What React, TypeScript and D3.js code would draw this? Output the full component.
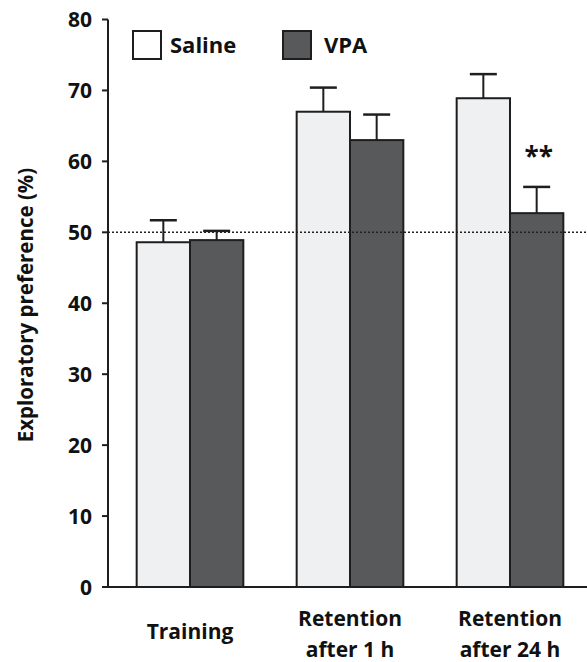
import React from "react";
import * as d3 from "d3";

const categories = [["Training"], ["Retention", "after 1 h"], ["Retention", "after 24 h"]];
const seriesNames = ["Saline", "VPA"];
const salineMean = [48.6, 67.0, 68.9];
const salineSem = [3.1, 3.4, 3.4];
const vpaMean = [48.9, 63.0, 52.7];
const vpaSem = [1.3, 3.6, 3.7];
const significance = ["", "", "**"];
const yTicks = [0, 10, 20, 30, 40, 50, 60, 70, 80];
const referenceLine = 50;
const yLabel = "Exploratory preference (%)";

const W = 587;
const H = 662;
const FONT = "'Open Sans', sans-serif";
const colors = ["#eff0f2", "#58595b"];
const stroke = "#1e1e1e";

export default function App() {
  const y = d3.scaleLinear().domain([0, 80]).range([587, 19.5]);
  const axisX = 108;
  const x0 = d3.scaleBand<number>().domain([0, 1, 2]).range([110, 590]).padding(0);
  const x1 = d3.scaleBand<string>().domain(seriesNames).range([0, x0.bandwidth()]).paddingOuter(0.5).paddingInner(0);
  const means = [salineMean, vpaMean];
  const sems = [salineSem, vpaSem];
  const capW = 27;

  return (
    <svg width={W} height={H} style={{ position: "absolute", left: 0, top: 0, background: "#fff" }} fontFamily={FONT}>
      {/* bars */}
      {categories.map((_, i) =>
        seriesNames.map((s, j) => {
          const bx = (x0(i) as number) + (x1(s) as number);
          const bw = x1.bandwidth();
          const m = means[j][i];
          const e = sems[j][i];
          const cx = bx + bw / 2;
          return (
            <g key={`${i}-${s}`}>
              <line x1={cx} x2={cx} y1={y(m)} y2={y(m + e)} stroke={stroke} strokeWidth={2} />
              <line x1={cx - capW / 2} x2={cx + capW / 2} y1={y(m + e)} y2={y(m + e)} stroke={stroke} strokeWidth={2.5} />
              <rect x={bx} y={y(m)} width={bw} height={y(0) - y(m)} fill={colors[j]} stroke={stroke} strokeWidth={2} />
            </g>
          );
        })
      )}
      {/* significance */}
      {significance.map((t, i) =>
        t ? (
          <text key={i} x={(x0(i) as number) + (x1("VPA") as number) + x1.bandwidth() / 2 + 2} y={y(vpaMean[i] + vpaSem[i]) - 21}
            textAnchor="middle" fontSize={26} fontWeight={700} fill="#111">{t}</text>
        ) : null
      )}
      {/* reference dotted line */}
      <line x1={axisX} x2={W} y1={y(referenceLine)} y2={y(referenceLine)} stroke="#222" strokeWidth={1.6} strokeDasharray="2,2" />
      {/* axes */}
      <line x1={axisX} x2={axisX} y1={y(80)} y2={y(0)} stroke={stroke} strokeWidth={2} />
      <line x1={axisX} x2={W} y1={y(0)} y2={y(0)} stroke={stroke} strokeWidth={2} />
      {yTicks.map((t) => (
        <g key={t}>
          <line x1={axisX - 6} x2={axisX} y1={y(t)} y2={y(t)} stroke={stroke} strokeWidth={2} />
          <text x={92} y={y(t)} dy="0.36em" textAnchor="end" fontSize={21} fontWeight={700} fill="#111">{t}</text>
        </g>
      ))}
      {/* y label */}
      <text transform={`translate(33,305) rotate(-90)`} textAnchor="middle" fontSize={20.5} fontWeight={700} fill="#111">{yLabel}</text>
      {/* x labels */}
      {categories.map((lines, i) => {
        const cx = (x0(i) as number) + x0.bandwidth() / 2;
        const startY = lines.length === 1 ? 639 : 626;
        return (
          <text key={i} textAnchor="middle" fontSize={21} fontWeight={700} fill="#111">
            {lines.map((l, k) => (
              <tspan key={k} x={cx} y={startY + k * 31}>{l}</tspan>
            ))}
          </text>
        );
      })}
      {/* legend */}
      {seriesNames.map((s, j) => (
        <g key={s} transform={`translate(${133 + j * 150},31)`}>
          <rect x={0} y={0} width={28} height={28} fill={j === 0 ? "#fff" : colors[1]} stroke={stroke} strokeWidth={2} />
          <text x={j === 0 ? 37 : 41} y={21.5} fontSize={22} fontWeight={700} fill="#111">{s}</text>
        </g>
      ))}
    </svg>
  );
}
